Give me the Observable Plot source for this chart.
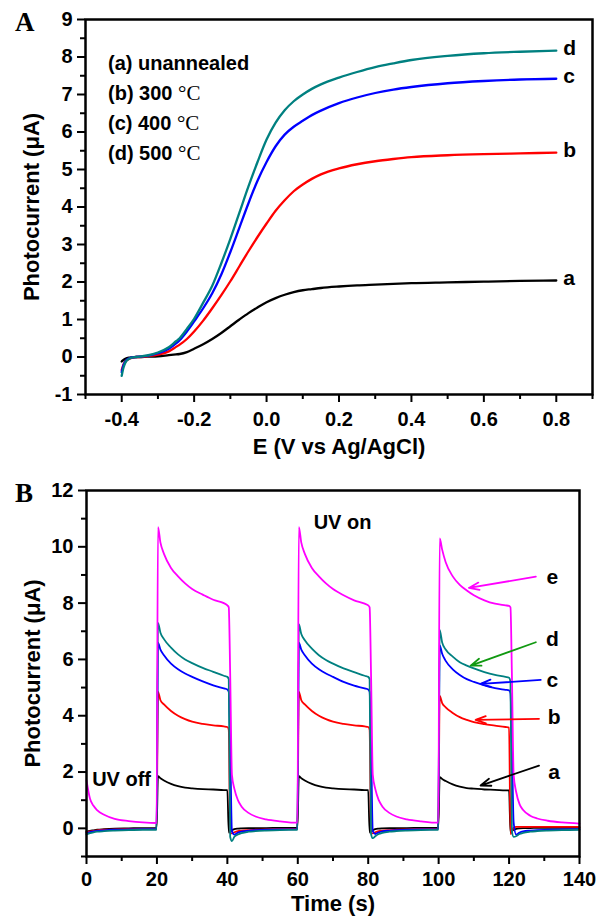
<!DOCTYPE html>
<html>
<head>
<meta charset="utf-8">
<script src="https://cdn.jsdelivr.net/npm/d3@7"></script>
<script src="https://cdn.jsdelivr.net/npm/@observablehq/plot@0.6"></script>
<style>
  html, body { margin: 0; padding: 0; background: #fff; }
  #wrap { position: relative; width: 607px; height: 922px; background: #fff; font-family: "Liberation Sans", Arial, Helvetica, sans-serif; color: #000; }
  #panelA { position: absolute; left: 0; top: 0; }
  #panelB { position: absolute; left: 0; top: 470px; }
  .ov { position: absolute; white-space: nowrap; line-height: 1; }
  .leg { font-size: 20px; font-weight: bold; }
  .deg { font-family: "Liberation Serif", "Times New Roman", serif; font-weight: normal; font-size: 21px; }
  .letter { font-family: "Liberation Serif", "Times New Roman", serif; font-weight: bold; font-size: 27px; }
</style>
</head>
<body>
<div id="wrap">
  <div id="panelA"></div>
  <div id="panelB"></div>
  <div class="ov letter" style="left:15px; top:9px;">A</div>
  <div class="ov letter" style="left:15px; top:480px;">B</div>
  <div class="ov leg" style="left:108px; top:53px;">(a) unannealed</div>
  <div class="ov leg" style="left:108px; top:83px;">(b) 300 <span class="deg">°C</span></div>
  <div class="ov leg" style="left:108px; top:113px;">(c) 400 <span class="deg">°C</span></div>
  <div class="ov leg" style="left:108px; top:143px;">(d) 500 <span class="deg">°C</span></div>
</div>
<script>
// ---------------- Panel A data: photocurrent vs potential ----------------
const potentialA = [-0.4, -0.395, -0.39, -0.38, -0.37, -0.36, -0.35, -0.33, -0.3, -0.27, -0.25, -0.24, -0.22, -0.2, -0.175, -0.15, -0.125, -0.1, -0.075, -0.05, -0.025, 0, 0.025, 0.05, 0.075, 0.1, 0.125, 0.15, 0.2, 0.25, 0.3, 0.35, 0.4, 0.5, 0.6, 0.7, 0.8];
const photoA_a = [-0.12,-0.08,-0.05,-0.02,-0.01,0,0,0.01,0.02,0.05,0.07,0.08,0.13,0.22,0.34,0.48,0.64,0.82,1.0,1.17,1.32,1.46,1.57,1.66,1.73,1.78,1.81,1.84,1.88,1.91,1.93,1.95,1.97,1.99,2.01,2.03,2.04];
const photoA_b = [-0.35,-0.2,-0.12,-0.05,-0.02,0,0,0.02,0.06,0.15,0.27,0.33,0.48,0.68,0.97,1.3,1.65,2.02,2.42,2.82,3.2,3.56,3.9,4.18,4.42,4.6,4.75,4.87,5.03,5.14,5.22,5.28,5.33,5.38,5.41,5.43,5.45];
const photoA_c = [-0.4,-0.22,-0.12,-0.04,-0.01,0,0.01,0.03,0.1,0.22,0.36,0.45,0.68,0.95,1.3,1.7,2.2,2.8,3.45,4.1,4.7,5.2,5.62,5.93,6.14,6.3,6.45,6.57,6.77,6.92,7.04,7.13,7.2,7.3,7.36,7.4,7.42];
const photoA_d = [-0.5,-0.28,-0.15,-0.05,-0.01,0,0.01,0.04,0.12,0.26,0.42,0.5,0.75,1.02,1.45,1.9,2.5,3.15,3.85,4.55,5.2,5.8,6.25,6.58,6.82,7.0,7.15,7.27,7.45,7.6,7.73,7.83,7.92,8.03,8.1,8.14,8.17];
const seriesA = ["a", "b", "c", "d"];
const majorXA = [-0.4, -0.2, 0, 0.2, 0.4, 0.6, 0.8];
const minorXA = [-0.5, -0.3, -0.1, 0.1, 0.3, 0.5, 0.7, 0.9];
const majorYA = [-1, 0, 1, 2, 3, 4, 5, 6, 7, 8, 9];
const minorYA = [-0.5, 0.5, 1.5, 2.5, 3.5, 4.5, 5.5, 6.5, 7.5, 8.5];
const titleXA = "E (V vs Ag/AgCl)";
const titleY = "Photocurrent (\u03bcA)";

// ---------------- Panel B data: photocurrent vs time ----------------
const timeB = [0,1,2,3,5,8,12,16,19.9,
  20.3,21,22,24,26,28,30,33,36,39,40,
  40.4,40.8,41.3,42,43,44,46,48,51,55,59.9,
  60.3,61,62,64,66,68,70,73,76,79,80,
  80.4,80.8,81.3,82,83,84,86,88,91,95,99.9,
  100.3,101,102,104,106,108,110,113,116,119,120,
  120.4,120.8,121.3,122,123,124,126,128,131,135,140];
const photoB_a = [-0.12,-0.09,-0.07,-0.05,-0.03,-0.01,0,0.01,0.01,
  1.85,1.78,1.7,1.58,1.5,1.45,1.42,1.39,1.38,1.36,1.36,
  -0.15,-0.12,-0.07,-0.03,-0.01,0,0.01,0.01,0.01,0.02,0.02,
  1.85,1.78,1.7,1.58,1.5,1.45,1.42,1.39,1.38,1.36,1.36,
  -0.15,-0.12,-0.07,-0.03,-0.01,0,0.01,0.01,0.01,0.02,0.02,
  1.82,1.75,1.68,1.56,1.48,1.43,1.41,1.38,1.37,1.35,1.35,
  -0.15,-0.1,-0.05,-0.02,0,0.01,0.01,0.02,0.02,0.02,0.02];
const photoB_b = [-0.15,-0.11,-0.09,-0.07,-0.05,-0.04,-0.03,-0.02,-0.02,
  4.85,4.55,4.4,4.17,4.0,3.88,3.79,3.71,3.66,3.62,3.6,
  3.5,-0.15,-0.18,-0.14,-0.1,-0.08,-0.06,-0.05,-0.04,-0.03,-0.02,
  4.85,4.55,4.4,4.17,4.0,3.88,3.79,3.71,3.66,3.62,3.6,
  3.5,-0.15,-0.18,-0.14,-0.1,-0.08,-0.06,-0.05,-0.04,-0.03,-0.02,
  4.7,4.45,4.3,4.1,3.95,3.85,3.77,3.7,3.65,3.6,3.58,
  -0.2,-0.1,0.02,0.05,0.05,0.05,0.05,0.05,0.05,0.05,0.05];
const photoB_c = [-0.17,-0.13,-0.11,-0.09,-0.07,-0.05,-0.04,-0.03,-0.03,
  6.6,6.35,6.15,5.85,5.65,5.5,5.38,5.22,5.08,4.97,4.93,
  4.85,3.0,-0.1,-0.22,-0.15,-0.12,-0.08,-0.06,-0.05,-0.04,-0.03,
  6.6,6.35,6.15,5.85,5.65,5.5,5.38,5.2,5.07,4.97,4.93,
  4.85,3.0,-0.1,-0.2,-0.14,-0.11,-0.08,-0.06,-0.05,-0.04,-0.03,
  6.5,6.2,5.95,5.65,5.45,5.3,5.2,5.08,4.98,4.92,4.9,
  4.8,3.0,0.2,-0.22,-0.15,-0.11,-0.08,-0.06,-0.05,-0.04,-0.03];
const photoB_d = [-0.22,-0.17,-0.14,-0.12,-0.1,-0.08,-0.06,-0.05,-0.05,
  7.3,6.95,6.72,6.42,6.18,6.0,5.87,5.7,5.56,5.42,5.38,
  5.3,-0.3,-0.45,-0.3,-0.22,-0.17,-0.12,-0.1,-0.08,-0.06,-0.05,
  7.25,6.9,6.68,6.38,6.15,5.98,5.85,5.68,5.55,5.42,5.38,
  5.3,-0.2,-0.35,-0.28,-0.2,-0.16,-0.12,-0.1,-0.08,-0.06,-0.05,
  7.05,6.6,6.35,6.1,5.9,5.78,5.68,5.55,5.45,5.38,5.35,
  5.2,-0.1,-0.3,-0.28,-0.2,-0.16,-0.12,-0.1,-0.08,-0.06,-0.05];
const photoB_e = [1.7,1.05,0.8,0.65,0.48,0.34,0.26,0.21,0.19,
  10.7,10.15,9.75,9.25,8.95,8.7,8.5,8.3,8.12,8.0,7.92,
  7.85,5.5,1.9,1.4,1.0,0.78,0.55,0.42,0.32,0.25,0.2,
  10.7,10.15,9.75,9.25,8.95,8.7,8.5,8.28,8.1,7.98,7.92,
  7.85,5.5,1.9,1.4,1.0,0.78,0.55,0.42,0.32,0.25,0.2,
  10.3,9.9,9.45,8.95,8.65,8.45,8.28,8.1,7.98,7.92,7.9,
  7.85,5.5,1.9,1.3,0.85,0.65,0.45,0.35,0.27,0.21,0.17];
const seriesB = ["a", "b", "c", "d", "e"];
const majorXB = [0, 20, 40, 60, 80, 100, 120, 140];
const minorXB = [10, 30, 50, 70, 90, 110, 130];
const majorYB = [0, 2, 4, 6, 8, 10, 12];
const minorYB = [-1, 1, 3, 5, 7, 9, 11];
const titleXB = "Time (s)";
// curve letters and their arrows (data units)
const labelTB = [132.8, 132.8, 132.3, 132.3, 132.3];
const labelVB = [2.0, 3.96, 5.25, 6.7, 8.91];
const arrowFromT = [128.5, 128.5, 129.0, 127.6, 127.6];
const arrowFromV = [2.23, 3.89, 5.27, 6.61, 8.94];
const arrowToT = [111.9, 110.5, 111.9, 109.1, 108.6];
const arrowToV = [1.52, 3.85, 5.13, 5.78, 8.54];
const uvText = ["UV on", "UV off"];
const uvT = [64.5, 1.6];
const uvV = [10.86, 1.73];

// ---------------- build & draw ----------------
const FONT = "'Liberation Sans', Arial, Helvetica, sans-serif";
const colorsA = ["#000000", "#ff0000", "#0000ff", "#008080"];
const colorsB = ["#000000", "#ff0000", "#0000ff", "#008080", "#ff00ff"];
const arrowColors = ["#000000", "#ff0000", "#0000ff", "#119911", "#ff00ff"];

const valsA = [photoA_a, photoA_b, photoA_c, photoA_d];
const rowsA = seriesA.flatMap((id, k) => potentialA.map((e, i) => ({E: e, I: valsA[k][i], id})));
const endA = seriesA.map((id, k) => ({id, E: potentialA[potentialA.length - 1], I: valsA[k][valsA[k].length - 1]}));

const plotA = Plot.plot({
  width: 607, height: 470,
  marginTop: 19, marginRight: 15, marginBottom: 76, marginLeft: 85,
  style: {fontFamily: FONT, fontWeight: "bold", fontSize: "20px", color: "#000", background: "transparent", overflow: "visible"},
  x: {domain: [-0.5, 0.9]},
  y: {domain: [-1, 9]},
  color: {domain: seriesA, range: colorsA},
  marks: [
    Plot.axisX({ticks: minorXA, tickSize: 5, strokeWidth: 2, tickFormat: () => "", label: null}),
    Plot.axisX({ticks: majorXA, tickSize: 8, strokeWidth: 2, tickPadding: 9, tickFormat: d => d.toFixed(1), fontSize: 20, fontWeight: "bold", label: null}),
    Plot.axisY({ticks: minorYA, tickSize: 5, strokeWidth: 2, tickFormat: () => "", label: null}),
    Plot.axisY({ticks: majorYA, tickSize: 8, strokeWidth: 2, tickPadding: 5, tickFormat: d => String(d), fontSize: 20, fontWeight: "bold", label: null}),
    Plot.line(rowsA, {x: "E", y: "I", z: "id", stroke: "id", strokeWidth: 2.3, curve: "monotone-x"}),
    Plot.frame({stroke: "#000", strokeWidth: 2.5}),
    Plot.text(endA, {x: "E", y: "I", text: "id", dx: 7, dy: -2, textAnchor: "start", fontSize: 21, fontWeight: "bold", fill: "#000"}),
    Plot.text([titleY], {frameAnchor: "left", dx: -54, rotate: -90, textAnchor: "middle", text: d => d, fontSize: 22, fontWeight: "bold", fill: "#000"}),
    Plot.text([titleXA], {frameAnchor: "bottom", dy: 59, textAnchor: "middle", text: d => d, fontSize: 22, fontWeight: "bold", fill: "#000"})
  ]
});
document.getElementById("panelA").appendChild(plotA);

const valsB = [photoB_a, photoB_b, photoB_c, photoB_d, photoB_e];
const rowsB = seriesB.flatMap((id, k) => timeB.map((t, i) => ({t, I: valsB[k][i], id})));
const labelsB = seriesB.map((id, k) => ({id, t: labelTB[k], v: labelVB[k]}));
const arrowsB = seriesB.map((id, k) => ({id, t1: arrowFromT[k], v1: arrowFromV[k], t2: arrowToT[k], v2: arrowToV[k]}));
const uvB = uvText.map((s, k) => ({s, t: uvT[k], v: uvV[k]}));

const plotB = Plot.plot({
  width: 607, height: 452,
  marginTop: 20, marginRight: 28, marginBottom: 66, marginLeft: 86,
  style: {fontFamily: FONT, fontWeight: "bold", fontSize: "20px", color: "#000", background: "transparent", overflow: "visible"},
  x: {domain: [0, 140]},
  y: {domain: [-1, 12]},
  color: {domain: seriesB, range: colorsB},
  marks: [
    Plot.axisX({ticks: minorXB, tickSize: 5, strokeWidth: 2, tickFormat: () => "", label: null}),
    Plot.axisX({ticks: majorXB, tickSize: 8, strokeWidth: 2, tickPadding: 7, tickFormat: d => String(d), fontSize: 20, fontWeight: "bold", label: null}),
    Plot.axisY({ticks: minorYB, tickSize: 5, strokeWidth: 2, tickFormat: () => "", label: null}),
    Plot.axisY({ticks: majorYB, tickSize: 8, strokeWidth: 2, tickPadding: 5, tickFormat: d => String(d), fontSize: 20, fontWeight: "bold", label: null}),
    Plot.line(rowsB, {x: "t", y: "I", z: "id", stroke: "id", strokeWidth: 1.8, curve: "monotone-x"}),
    Plot.frame({stroke: "#000", strokeWidth: 2.5}),
    ...arrowsB.map((a, k) => Plot.arrow([a], {x1: "t1", y1: "v1", x2: "t2", y2: "v2", stroke: arrowColors[k], strokeWidth: 1.8, headLength: 9, headAngle: 40})),
    Plot.text(labelsB, {x: "t", y: "v", text: "id", fontSize: 21, fontWeight: "bold", fill: "#000"}),
    Plot.text(uvB, {x: "t", y: "v", text: "s", textAnchor: "start", fontSize: 20, fontWeight: "bold", fill: "#000"}),
    Plot.text([titleY], {frameAnchor: "left", dx: -54, rotate: -90, textAnchor: "middle", text: d => d, fontSize: 22, fontWeight: "bold", fill: "#000"}),
    Plot.text([titleXB], {frameAnchor: "bottom", dy: 54, textAnchor: "middle", text: d => d, fontSize: 22, fontWeight: "bold", fill: "#000"})
  ]
});
document.getElementById("panelB").appendChild(plotB);
</script>
</body>
</html>
